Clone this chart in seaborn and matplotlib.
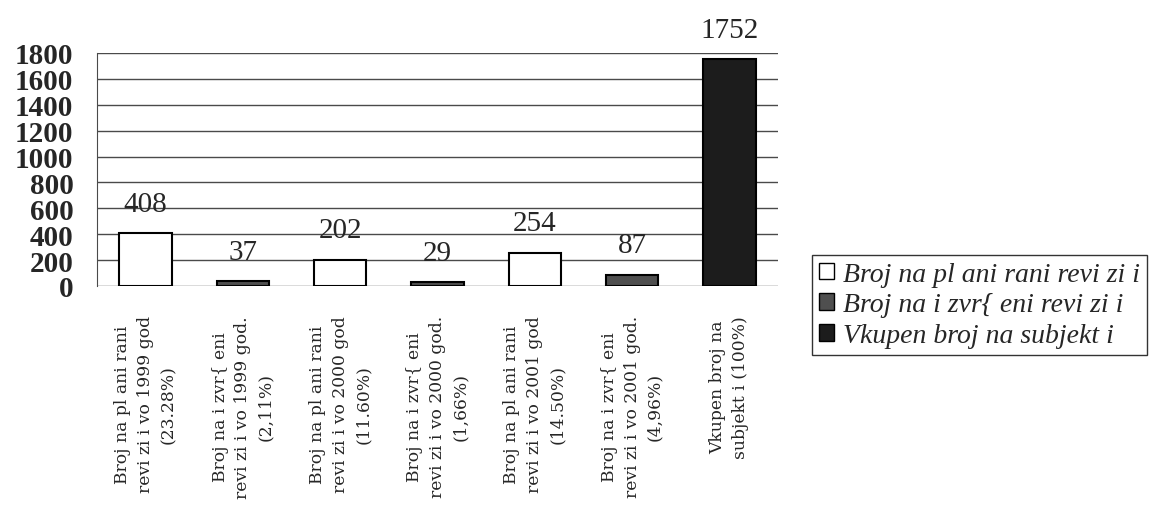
import numpy as np
import pandas as pd
import matplotlib
matplotlib.use("Agg")
import matplotlib.pyplot as plt
import seaborn as sns
from matplotlib.patches import Patch

# data
categories = [
    "Broj na pl ani rani\nrevi zi i vo 1999 god\n(23.28%)",
    "Broj na i zvr{ eni\nrevi zi i vo 1999 god.\n(2,11%)",
    "Broj na pl ani rani\nrevi zi i vo 2000 god\n(11.60%)",
    "Broj na i zvr{ eni\nrevi zi i vo 2000 god.\n(1,66%)",
    "Broj na pl ani rani\nrevi zi i vo 2001 god\n(14.50%)",
    "Broj na i zvr{ eni\nrevi zi i vo 2001 god.\n(4,96%)",
    "Vkupen broj na\nsubjekt i (100%)",
]
values = [408, 37, 202, 29, 254, 87, 1752]
series = ["Broj na pl ani rani revi zi i", "Broj na i zvr{ eni revi zi i",
          "Broj na pl ani rani revi zi i", "Broj na i zvr{ eni revi zi i",
          "Broj na pl ani rani revi zi i", "Broj na i zvr{ eni revi zi i",
          "Vkupen broj na subjekt i"]
series_names = ["Broj na pl ani rani revi zi i", "Broj na i zvr{ eni revi zi i",
                "Vkupen broj na subjekt i"]
colors = ["#ffffff", "#4f4f4f", "#1c1c1c"]
yticks = [0, 200, 400, 600, 800, 1000, 1200, 1400, 1600, 1800]

sns.set_style("white")
plt.rcParams['font.family'] = ['Liberation Serif', 'DejaVu Serif']

df = pd.DataFrame({"cat": categories, "val": values, "ser": series})

fig = plt.figure(figsize=(11.57, 5.06), dpi=100)
ax = fig.add_axes([97 / 1157, 1 - 287 / 506, 681 / 1157, 233 / 506])

sns.barplot(data=df, x="cat", y="val", hue="ser", hue_order=series_names,
            palette=dict(zip(series_names, colors)), dodge=False,
            width=0.54, edgecolor="black", linewidth=1.5, legend=False, ax=ax)

ax.set_ylim(0, 1800)
ax.set_xlim(-0.5, len(categories) - 0.5)
ax.set_yticks(yticks)
ax.set_yticklabels([str(v) for v in yticks], fontsize=21, fontweight="bold")
ax.yaxis.grid(True, color="#4a4a4a", linewidth=1)
ax.set_axisbelow(True)
ax.set_xlabel("")
ax.set_ylabel("")

for s in ["top", "right", "bottom"]:
    ax.spines[s].set_visible(False)
ax.spines["left"].set_color("#4a4a4a")

ax.tick_params(axis="y", length=7, color="#4a4a4a", pad=10, direction="out")
ax.tick_params(axis="x", which="major", length=0, pad=21)
ax.set_xticks(np.arange(-0.5, len(categories), 1), minor=True)
ax.tick_params(axis="x", which="minor", length=5, color="#4a4a4a", direction="out")
ax.set_xticks(range(len(categories)))
ax.set_xticklabels(categories, rotation=90, fontsize=12.3, ha="center",
                   va="top", multialignment="center", linespacing=1.45,
                   family="DejaVu Serif")

for i, v in enumerate(values):
    ax.annotate(str(v), (i, v), xytext=(0, 12), textcoords="offset points",
                ha="center", va="bottom", fontsize=21, annotation_clip=False)

handles = [Patch(facecolor=c, edgecolor="black", linewidth=1) for c in colors]
leg = fig.legend(handles, series_names, loc="upper left",
                 bbox_to_anchor=(812 / 1157, 1 - 256 / 506),
                 prop={"family": "Liberation Serif", "style": "italic", "size": 20},
                 frameon=True, fancybox=False, edgecolor="black",
                 handlelength=0.55, handleheight=0.55, handletextpad=0.3,
                 labelspacing=0.2, borderpad=0.25, borderaxespad=0)
leg.get_frame().set_linewidth(1)

fig.savefig("out.png", dpi=100)
